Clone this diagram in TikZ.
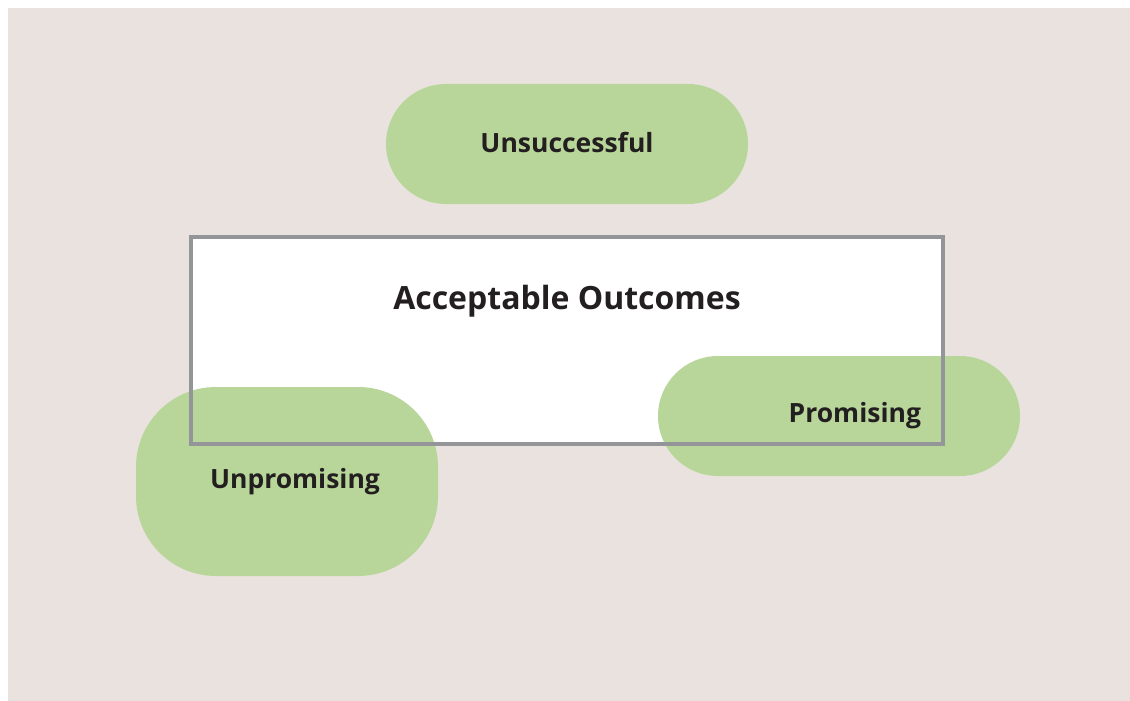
\documentclass[tikz,border=0pt]{standalone}
\usepackage{fontspec}
\setmainfont{Open Sans}
\usepackage{tikz}
\usetikzlibrary{positioning}

\definecolor{canvas}{HTML}{EAE2DF}
\definecolor{leaf}{HTML}{B8D699}
\definecolor{frame}{HTML}{939598}
\definecolor{ink}{HTML}{231F20}

\tikzset{
  outcome/.style={fill=leaf,text=ink,font=\fontsize{26.5}{32}\selectfont\bfseries,
    rounded corners=60pt,minimum width=362pt,minimum height=120pt,inner sep=0pt},
  goalbox/.style={draw=frame,line width=3.5pt}
}

\begin{document}
\begin{tikzpicture}[x=1pt,y=-1pt]
  % page and background
  \fill[white] (0,0) rectangle (1130,701);
  \fill[canvas] (8,8) rectangle (1130,701);
  \useasboundingbox (0,0) rectangle (1130,701);

  \node[fill=white,minimum width=752pt,minimum height=207pt,inner sep=0pt] (acceptable) at (567,340.5) {};
  \node[text=ink,font=\fontsize{32}{38}\selectfont\bfseries] (acctitle) at (567,301.5) {Acceptable Outcomes};

  \node[outcome] (unsuccessful) at (567,144) {\raisebox{3pt}{Unsuccessful}};
  \node[outcome,text width=164pt,align=right,inner xsep=99pt] (promising) at (839,416) {Promising};
  \node[outcome,rounded corners=80pt,minimum width=302pt,minimum height=189pt] (unpromising) at (287,481.5) {\raisebox{4pt}{\hspace*{16pt}Unpromising}};

  % frame on top of the green shapes
  \draw[goalbox] (acceptable.north west) rectangle (acceptable.south east);
\end{tikzpicture}
\end{document}
